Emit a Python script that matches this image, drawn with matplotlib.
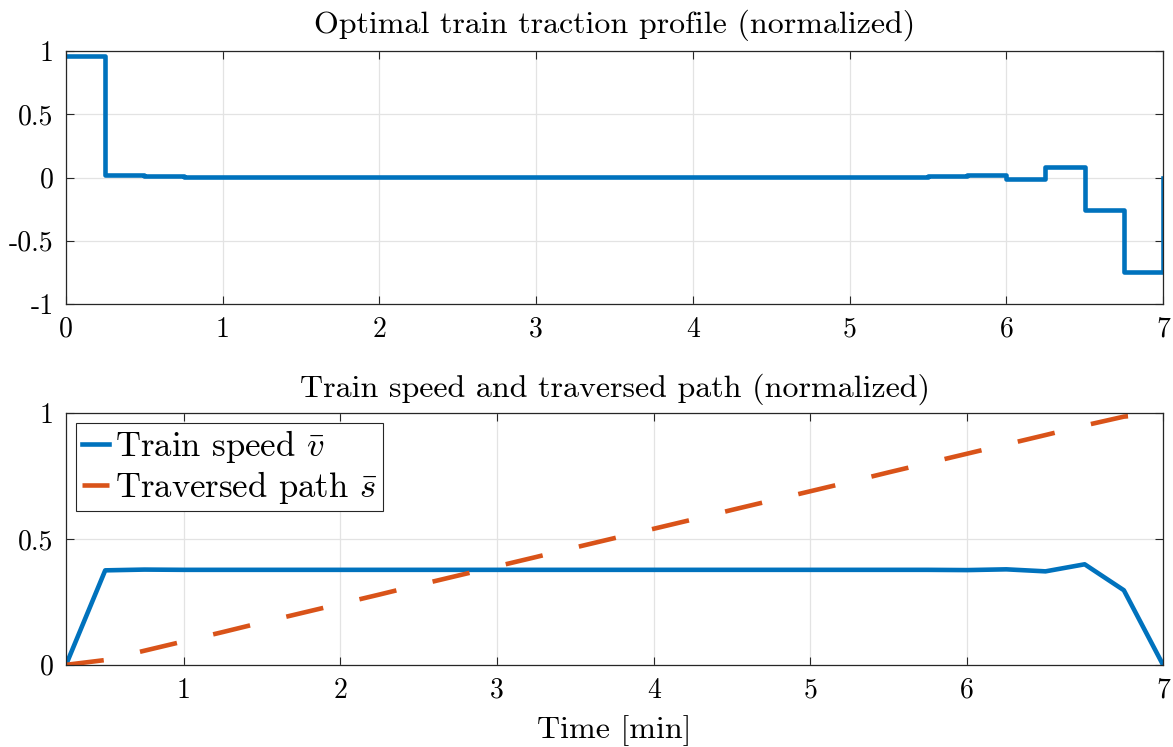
import matplotlib
matplotlib.use("Agg")
import matplotlib.pyplot as plt

plt.rcParams['font.family'] = ['cmr10']
plt.rcParams['mathtext.fontset'] = 'cm'
plt.rcParams['axes.unicode_minus'] = False

# traction profile, piecewise constant on 0.25 min intervals
t_u = [0, 0.25, 0.5, 0.75, 1.0, 1.25, 1.5, 1.75, 2.0, 2.25, 2.5, 2.75, 3.0, 3.25, 3.5,
       3.75, 4.0, 4.25, 4.5, 4.75, 5.0, 5.25, 5.5, 5.75, 6.0, 6.25, 6.5, 6.75, 7.0]
u = [0.96, 0.02, 0.01, 0.008, 0.008, 0.008, 0.008, 0.008, 0.008, 0.008, 0.008, 0.008,
     0.008, 0.008, 0.008, 0.008, 0.008, 0.008, 0.008, 0.008, 0.008, 0.008, 0.01, 0.02,
     -0.01, 0.085, -0.255, -0.75, -0.005]

# speed and path
t_v = [0.25, 0.5, 0.75, 1.0, 1.25, 1.5, 1.75, 2.0, 2.25, 2.5, 2.75, 3.0, 3.25, 3.5, 3.75,
       4.0, 4.25, 4.5, 4.75, 5.0, 5.25, 5.5, 5.75, 6.0, 6.25, 6.5, 6.75, 7.0, 7.25]
v = [0.0, 0.375, 0.378, 0.377, 0.377, 0.377, 0.377, 0.377, 0.377, 0.377, 0.377, 0.377,
     0.377, 0.377, 0.377, 0.377, 0.377, 0.377, 0.377, 0.377, 0.377, 0.377, 0.377, 0.376,
     0.379, 0.371, 0.399, 0.296, 0.0]
s = [0.0, 0.019, 0.056, 0.093, 0.130, 0.168, 0.205, 0.242, 0.279, 0.317, 0.354, 0.391,
     0.428, 0.466, 0.503, 0.540, 0.577, 0.615, 0.652, 0.689, 0.726, 0.764, 0.801, 0.838,
     0.875, 0.912, 0.950, 0.985, 1.0]

bottom_ticks = [1, 2, 3, 4, 5, 6, 7.25]
bottom_labels = ['1', '2', '3', '4', '5', '6', '7']

blue = '#0072BD'
orange = '#D95319'

fig = plt.figure(figsize=(11.73, 7.47), dpi=100)
ax1 = fig.add_axes([0.0563, 0.593, 0.9352, 0.3387])
ax2 = fig.add_axes([0.0563, 0.110, 0.9352, 0.3373])


def style(ax):
    ax.grid(True, color='#e3e3e3', linewidth=0.9)
    ax.set_axisbelow(True)
    ax.tick_params(direction='in', length=6, width=0.8, top=True, right=True,
                   labelsize=20, color='#262626', pad=9)
    for sp in ax.spines.values():
        sp.set_color('#262626')
        sp.set_linewidth(0.9)


ax1.step(t_u, u, where='post', color=blue, linewidth=3.3)
ax1.set_xlim(0, 7)
ax1.set_ylim(-1, 1)
ax1.set_xticks(range(8))
ax1.set_yticks([-1, -0.5, 0, 0.5, 1])
ax1.set_yticklabels(['-1', '-0.5', '0', '0.5', '1'])
ax1.set_title('Optimal train traction profile (normalized)', fontsize=23, pad=13)
style(ax1)

ax2.plot(t_v, v, color=blue, linewidth=3.3, label=r'Train speed $\bar{v}$')
ax2.plot(t_v, s, color=orange, linewidth=3.3, dashes=(8.29, 8.12),
         dash_capstyle='butt', label=r'Traversed path $\bar{s}$')
ax2.set_xlim(0.25, 7.25)
ax2.set_ylim(0, 1)
ax2.set_xticks(bottom_ticks)
ax2.set_xticklabels(bottom_labels)
ax2.set_yticks([0, 0.5, 1])
ax2.set_yticklabels(['0', '0.5', '1'])
ax2.set_title('Train speed and traversed path (normalized)', fontsize=23, pad=11.5)
ax2.set_xlabel('Time [min]', fontsize=23, labelpad=8)
style(ax2)

leg = ax2.legend(loc='upper left', fontsize=25, frameon=True, fancybox=False,
                 framealpha=1, edgecolor='#262626', handlelength=0.8,
                 handletextpad=0.15, borderpad=0.15, labelspacing=0.1,
                 borderaxespad=0.3)
leg.get_frame().set_linewidth(0.8)

fig.savefig('out.png', dpi=100)
